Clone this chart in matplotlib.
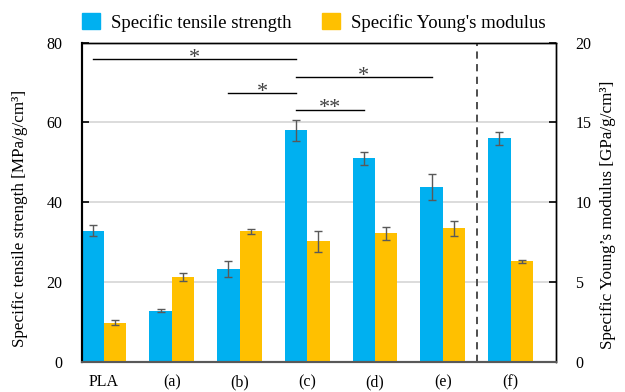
import numpy as np
import matplotlib
matplotlib.use("Agg")
import matplotlib.pyplot as plt

plt.rcParams["font.family"] = ["Liberation Serif", "DejaVu Serif"]

# ---- data ----
labels = ["PLA", "(a)", "(b)", "(c)", "(d)", "(e)", "(f)"]
tensile = [32.9, 12.8, 23.2, 58.0, 51.0, 43.8, 56.0]        # MPa/g/cm3
tensile_err = [1.3, 0.45, 2.0, 2.7, 1.7, 3.3, 1.7]
young = [2.44, 5.30, 8.17, 7.55, 8.04, 8.36, 6.30]            # GPa/g/cm3
young_err = [0.17, 0.24, 0.15, 0.67, 0.40, 0.46, 0.10]

# significance brackets: (from group, to group, height on left axis, text)
sig_from = [0, 2, 3, 3]
sig_to = [3, 3, 5, 4]
sig_y = [75.8, 67.3, 71.4, 63.2]
sig_txt = ["*", "*", "*", "**"]

blue, yellow = "#00B0F0", "#FFC000"
ecol = "#595959"

fig = plt.figure(figsize=(6.25, 3.92), dpi=100)
ax = fig.add_axes([0.1312, 0.0773, 0.7584, 0.8137])
ax2 = ax.twinx()

x = np.arange(len(labels))
w = 0.33
ax.bar(x - w / 2, tensile, w, color=blue, yerr=tensile_err, zorder=2,
       error_kw=dict(ecolor=ecol, elinewidth=1, capsize=3, capthick=1))
ax2.bar(x + w / 2, young, w, color=yellow, yerr=young_err, zorder=2,
        error_kw=dict(ecolor=ecol, elinewidth=1, capsize=3, capthick=1))

ax.set_xlim(-0.325, 6.67)
ax.set_ylim(0, 80)
ax2.set_ylim(0, 20)
ax.set_yticks([0, 20, 40, 60, 80])
ax2.set_yticks([0, 5, 10, 15, 20])
ax.set_xticks(x)
ax.set_xticklabels(labels, fontsize=11.5)
ax.tick_params(axis="x", length=0, pad=9)
ax.tick_params(axis="y", direction="in", length=5, width=1.2, labelsize=11.5, pad=14)
ax2.tick_params(axis="y", direction="in", length=5, width=1.2, labelsize=11.5, pad=14)
ax.yaxis.grid(True, color="#d9d9d9", lw=1.3, zorder=0)
ax.set_axisbelow(True)

for a in (ax, ax2):
    for s in ("left", "right", "top"):
        a.spines[s].set_color("black")
        a.spines[s].set_linewidth(1.0)
    a.spines["left"].set_linewidth(1.5)
    a.spines["bottom"].set_color("#595959")
    a.spines["bottom"].set_linewidth(1.5)

ax.set_ylabel("Specific tensile strength [MPa/g/cm\u00b3]", fontsize=12.3)
ax.yaxis.set_label_coords(-0.113, 0.45)
ax2.set_ylabel("Specific Young\u2019s modulus [GPa/g/cm\u00b3]", fontsize=12.3)
ax2.yaxis.set_label_coords(1.092, 0.46)

# separator before (f)
ax.axvline(5.5, color="#404040", ls=(0, (4, 3)), lw=1.3, zorder=3)

# significance brackets
for f, t, yv, s in zip(sig_from, sig_to, sig_y, sig_txt):
    x0, x1 = f - w / 2, t - w / 2
    ax.plot([x0, x1], [yv, yv], color="black", lw=1.0, zorder=4)
    ax.text((x0 + x1) / 2, yv - 2.2, s, ha="center", va="bottom",
            fontsize=16, color="#404040", zorder=4)

# legend above the plot
fig.legend(handles=[plt.Rectangle((0, 0), 1, 1, color=blue),
                    plt.Rectangle((0, 0), 1, 1, color=yellow)],
           labels=["Specific tensile strength", "Specific Young's modulus"],
           loc="upper left", bbox_to_anchor=(0.131, 0.966), ncol=2, frameon=False,
           fontsize=13.5, handlelength=0.95, handleheight=0.95, columnspacing=1.65,
           handletextpad=0.6, borderpad=0, borderaxespad=0)

fig.savefig("out.png", dpi=100)
